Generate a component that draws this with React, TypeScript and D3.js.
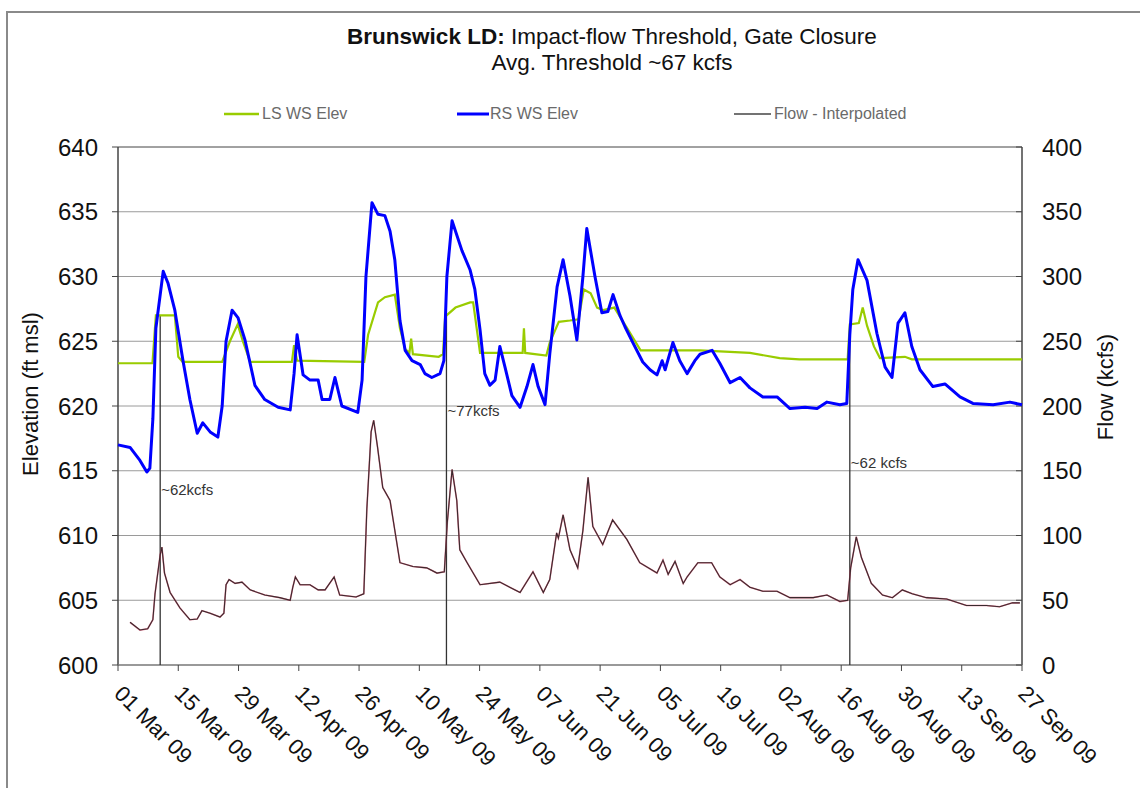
import * as d3 from "d3";

// day offsets are counted from 01 Mar 09
const START = Date.UTC(2009, 2, 1);
const END_DAY = 210;
const TICK_DAYS = d3.range(0, END_DAY + 1, 14);

// RS WS Elev (ft msl), [day, elev]
const rsWsElev: [number, number][] = [
  [0, 617.0], [2.8, 616.8], [5.1, 615.8], [6.7, 614.9], [7.4, 615.2], [8.1, 619],
  [8.8, 626], [10.5, 630.4], [11.6, 629.5], [13.2, 627.4], [15.1, 623.5], [16.7, 620.5],
  [18.4, 617.9], [19.7, 618.7], [21.4, 618.0], [23.2, 617.6], [24.2, 620], [25.1, 625],
  [26.5, 627.4], [27.9, 626.8], [29.5, 625.1], [31.8, 621.6], [34.1, 620.5], [37.2, 619.9],
  [40.0, 619.7], [40.9, 622.5], [41.6, 625.5], [43.0, 622.4], [44.6, 622.0], [46.5, 622.0],
  [47.4, 620.5], [49.2, 620.5], [50.4, 622.2], [52.0, 620.0], [55.7, 619.5], [56.7, 622],
  [57.6, 630], [59.0, 635.7], [60.4, 634.8], [62.0, 634.7], [63.2, 633.5], [64.3, 631.3],
  [65.5, 626.6], [66.7, 624.3], [68.3, 623.5], [70.2, 623.2], [71.3, 622.5], [72.9, 622.2],
  [74.8, 622.5], [75.7, 623.5], [76.4, 630], [77.6, 634.3], [79.9, 632], [81.8, 630.5],
  [82.9, 629], [84.1, 625.9], [85.2, 622.5], [86.4, 621.6], [87.6, 622.0], [88.7, 624.6],
  [89.9, 623.0], [91.5, 620.8], [93.4, 619.9], [95.0, 621.5], [96.4, 623.2], [97.6, 621.5],
  [99.2, 620.1], [100.3, 624], [102.0, 629.2], [103.4, 631.3], [105.0, 628.5], [106.6, 625.1],
  [108.0, 630], [108.9, 633.7], [110.8, 630], [112.4, 627.2], [113.8, 627.3], [115.0, 628.6],
  [116.6, 627], [117.8, 626.1], [119.6, 624.9], [121.9, 623.4], [123.6, 622.8], [125.2, 622.4],
  [126.4, 623.5], [127.1, 622.8], [128.9, 624.9], [130.5, 623.5], [132.2, 622.5], [134.0, 623.5],
  [135.2, 624], [138.0, 624.3], [139.8, 623.3], [142.2, 621.8], [144.5, 622.2], [146.8, 621.4],
  [149.8, 620.7], [153.1, 620.7], [156.1, 619.8], [159.6, 619.9], [162.4, 619.8], [164.7, 620.3],
  [167.7, 620.1], [169.3, 620.2], [170.0, 625.5], [170.7, 629], [171.9, 631.3], [174.0, 629.7],
  [176.3, 625.6], [178.2, 623], [179.8, 622.2], [181.2, 626.4], [182.8, 627.2], [184.4, 624.6],
  [186.3, 622.8], [189.3, 621.5], [192.1, 621.7], [195.6, 620.7], [198.6, 620.2], [203.3, 620.1],
  [207.2, 620.3], [210, 620.1],
];

// LS WS Elev (ft msl), [day, elev]
const lsWsElev: [number, number][] = [
  [0, 623.3], [8.0, 623.3], [8.8, 627.0], [13.2, 627.0], [14.0, 623.8], [15.0, 623.4],
  [24.2, 623.4], [26.0, 625], [27.8, 626.3], [29.0, 625], [30.7, 623.4], [40.4, 623.4],
  [40.9, 624.7], [41.6, 623.5], [57.2, 623.4], [58.1, 625.5], [60.4, 628.0], [62.0, 628.4],
  [64.3, 628.6], [65.5, 626], [66.7, 624.4], [67.7, 624.1], [68.1, 625.2], [68.5, 624.0],
  [74.5, 623.8], [75.5, 624], [76.0, 626.9], [78.4, 627.6], [81.8, 628.0], [82.5, 628],
  [84.1, 624.1], [94.0, 624.1], [94.3, 626], [94.6, 624.1], [99.5, 623.9], [100.3, 624.9],
  [102.4, 626.5], [105, 626.6], [107.0, 626.7], [108.2, 629], [109.8, 628.7], [111.3, 627.6],
  [112.7, 627.4], [115.3, 627.6], [118.3, 626], [121.4, 624.3], [135.2, 624.3], [146.8, 624.1],
  [153.7, 623.7], [158.3, 623.6], [169.5, 623.6], [170.0, 626.3], [172.1, 626.4], [173.0, 627.6],
  [174.0, 626.2], [175.6, 624.6], [177.0, 623.7], [182.8, 623.8], [184.4, 623.6], [210, 623.6],
];

// Flow - Interpolated (kcfs), [day, flow]
const flowKcfs: [number, number][] = [
  [2.8, 33], [5.1, 27], [6.9, 28], [8.1, 35], [8.6, 55], [9.8, 85], [10.2, 91], [10.8, 71],
  [12.1, 56], [14.4, 44], [16.7, 35], [18.4, 35.5], [19.5, 42], [21.4, 40], [23.7, 37],
  [24.6, 40], [25.1, 62], [25.8, 66], [27.2, 63], [28.8, 64], [30.7, 58], [34.1, 54],
  [37.6, 52], [40.0, 50], [40.6, 60], [41.2, 68], [42.3, 62], [44.6, 62], [46.5, 58],
  [48.1, 58], [50.2, 68], [51.5, 54], [55.3, 52.5], [57.1, 55], [57.8, 120], [58.8, 180],
  [59.4, 189], [60.3, 168], [61.5, 137], [63.2, 127], [65.5, 79], [68.5, 76], [71.7, 75],
  [74.1, 71], [75.8, 72], [76.5, 110], [77.6, 151], [78.7, 127], [79.4, 89], [81.1, 79],
  [84.1, 62], [88.7, 64], [93.4, 56], [96.4, 72], [98.8, 56], [100.3, 66], [101.9, 102],
  [102.3, 98], [103.4, 116], [105.0, 89], [106.8, 75], [108.0, 104], [109.2, 145], [110.3, 107],
  [112.6, 93], [114.9, 112], [118.2, 97], [121.2, 79], [125.2, 71], [126.6, 81], [127.8, 70],
  [129.4, 80], [131.3, 63], [132.2, 68], [134.7, 79], [137.9, 79], [139.8, 68], [142.2, 62],
  [144.5, 66], [146.8, 60], [149.8, 57], [153.1, 57], [156.1, 52], [161.5, 52], [164.7, 54],
  [167.7, 49], [169.5, 50], [170.2, 75], [171.5, 99], [172.7, 83], [175.0, 63], [177.6, 54],
  [179.9, 52], [182.2, 58], [184.5, 55], [187.8, 52], [192.5, 51], [197.1, 46], [201.7, 46],
  [204.8, 45], [207.8, 48], [209.5, 48],
];

// gate closure markers
const gateDays = [9.8, 76.3, 170.0];
const gateTopElev = [627, 627.2, 626.3];
const gateLabels = ["~62kcfs", "~77kcfs", "~62 kcfs"];
const gateLabelElev = [613.5, 619.6, 615.6];

const elevTicks = d3.range(600, 641, 5);
const flowTicks = d3.range(0, 401, 50);

const dayToDate = (d: number) => new Date(START + d * 864e5);

export default function App() {
  const W = 1140;
  const H = 788;
  const left = 118;
  const right = 1022;
  const top = 147;
  const bottom = 665;

  const x = d3
    .scaleUtc()
    .domain([dayToDate(0), dayToDate(END_DAY)])
    .range([left, right]);
  const yL = d3.scaleLinear().domain([600, 640]).range([bottom, top]);
  const yR = d3.scaleLinear().domain([0, 400]).range([bottom, top]);
  const fmt = d3.utcFormat("%d %b %y");

  const elevLine = d3
    .line<[number, number]>()
    .x((d) => x(dayToDate(d[0])))
    .y((d) => yL(d[1]));
  const flowLine = d3
    .line<[number, number]>()
    .x((d) => x(dayToDate(d[0])))
    .y((d) => yR(d[1]));

  const font = "Arial, 'Liberation Sans', sans-serif";

  return (
    <svg
      width={W}
      height={H}
      style={{ position: "absolute", left: 0, top: 0, background: "#fff" }}
      fontFamily={font}
    >
      {/* image frame */}
      <path d={`M7,${H} V12 H${W}`} fill="none" stroke="#8a8a8a" strokeWidth={2} />

      {/* title */}
      <text x={612} y={44} textAnchor="middle" fontSize={22.5} fill="#111">
        <tspan fontWeight="bold">Brunswick LD:</tspan>
        <tspan> Impact-flow Threshold, Gate Closure</tspan>
      </text>
      <text x={612} y={70} textAnchor="middle" fontSize={22.5} fill="#111">
        Avg. Threshold ~67 kcfs
      </text>

      {/* legend */}
      <g fontSize={16} fill="#6a6a6a">
        <line x1={224} x2={259} y1={114} y2={114} stroke="#99cc00" strokeWidth={2.5} />
        <text x={262} y={119}>LS WS Elev</text>
        <line x1={457} x2={489} y1={114} y2={114} stroke="#0000ff" strokeWidth={3} />
        <text x={490} y={119}>RS WS Elev</text>
        <line x1={734} x2={771} y1={114} y2={114} stroke="#444" strokeWidth={1.5} />
        <text x={774} y={119}>Flow - Interpolated</text>
      </g>

      {/* gridlines */}
      {elevTicks.slice(1, -1).map((t) => (
        <line key={t} x1={left} x2={right} y1={yL(t)} y2={yL(t)} stroke="#9a9a9a" strokeWidth={1} />
      ))}
      <line x1={left} x2={right} y1={top} y2={top} stroke="#444" strokeWidth={1} />

      {/* axes */}
      <line x1={left} x2={left} y1={top} y2={bottom} stroke="#444" strokeWidth={1.5} />
      <line x1={right} x2={right} y1={top} y2={bottom} stroke="#444" strokeWidth={1.5} />
      <line x1={left} x2={right} y1={bottom} y2={bottom} stroke="#777" strokeWidth={1.5} />

      {elevTicks.map((t) => (
        <g key={t}>
          <line x1={left - 6} x2={left} y1={yL(t)} y2={yL(t)} stroke="#444" />
          <text x={98} y={yL(t)} dy="0.36em" textAnchor="end" fontSize={24} fill="#111">
            {t}
          </text>
        </g>
      ))}
      {flowTicks.map((t) => (
        <g key={t}>
          <line x1={right - 6} x2={right} y1={yR(t)} y2={yR(t)} stroke="#444" />
          <text x={1042} y={yR(t)} dy="0.36em" textAnchor="start" fontSize={24} fill="#111">
            {t}
          </text>
        </g>
      ))}
      {TICK_DAYS.map((d) => {
        const px = x(dayToDate(d));
        return (
          <g key={d}>
            <line x1={px} x2={px} y1={bottom} y2={bottom + 6} stroke="#444" />
            <text
              transform={`translate(${px - 5},${bottom + 30}) rotate(45)`}
              fontSize={22}
              fill="#111"
            >
              {fmt(dayToDate(d))}
            </text>
          </g>
        );
      })}

      <text transform="translate(38,394) rotate(-90)" textAnchor="middle" fontSize={22} fill="#111">
        Elevation (ft msl)
      </text>
      <text transform="translate(1113,387) rotate(-90)" textAnchor="middle" fontSize={22} fill="#111">
        Flow (kcfs)
      </text>

      {/* gate closure markers */}
      {gateDays.map((d, i) => {
        const px = x(dayToDate(d));
        return (
          <g key={d}>
            <line x1={px} x2={px} y1={yL(gateTopElev[i])} y2={bottom} stroke="#333" strokeWidth={1.3} />
            <text x={px + 1} y={yL(gateLabelElev[i])} dy="0.35em" fontSize={15} fill="#333">
              {gateLabels[i]}
            </text>
          </g>
        );
      })}

      {/* series */}
      <path d={flowLine(flowKcfs) ?? ""} fill="none" stroke="#d04060" strokeWidth={1.6} strokeOpacity={0.7} />
      <path d={flowLine(flowKcfs) ?? ""} fill="none" stroke="#3a2a2e" strokeWidth={1.1} />
      <path d={elevLine(lsWsElev) ?? ""} fill="none" stroke="#99cc00" strokeWidth={2.2} />
      <path d={elevLine(rsWsElev) ?? ""} fill="none" stroke="#0000ff" strokeWidth={3} strokeLinejoin="round" />
    </svg>
  );
}
